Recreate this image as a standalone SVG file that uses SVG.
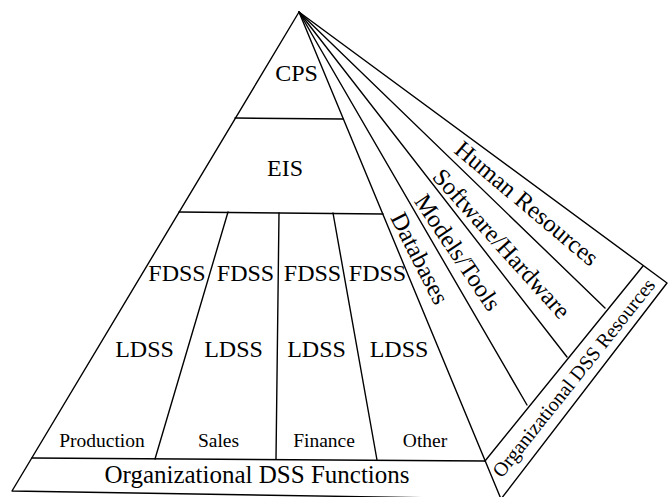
<svg xmlns="http://www.w3.org/2000/svg" width="672" height="497" viewBox="0 0 672 497">
  <style>
    .ln { stroke: #000; stroke-width: 1.4; fill: none; stroke-linecap: round; stroke-linejoin: round; }
    text { font-family: "Liberation Serif", "Times New Roman", serif; fill: #000; text-anchor: middle; }
    .lg { font-size: 24px; }
    .sm { font-size: 19.5px; }
    .fan { font-size: 24.5px; }
    .band { font-size: 25px; }
    .res { font-size: 20px; }
  </style>
  <rect width="672" height="497" fill="#fff"/>

  <!-- pyramid frame, fan of resource strips and dividers -->
  <g id="connectors" class="ln">
    <path d="M299,12 L12,491 L501,499 Z"/>
    <path d="M299,12 L527,405"/>
    <path d="M299,12 L567,357"/>
    <path d="M299,12 L605,308"/>
    <path d="M299,12 L667,283 L501,499"/>
    <path d="M485,461 L643,266"/>
    <path d="M32,458 L485,461"/>
    <path d="M179,212 L383,214"/>
    <path d="M235,118 L343,119"/>
    <path d="M228,212 L155,459"/>
    <path d="M279,213 L276,459"/>
    <path d="M333,213 L377,460"/>
  </g>

  <g id="cps"><text class="lg" x="296.5" y="81">CPS</text></g>
  <g id="eis"><text class="lg" x="285" y="176">EIS</text></g>

  <g id="production">
    <text class="lg" x="177" y="281">FDSS</text>
    <text class="lg" x="144.5" y="357">LDSS</text>
    <text class="sm" x="102" y="447">Production</text>
  </g>
  <g id="sales">
    <text class="lg" x="245.5" y="281">FDSS</text>
    <text class="lg" x="233.5" y="357">LDSS</text>
    <text class="sm" x="218.5" y="447">Sales</text>
  </g>
  <g id="finance">
    <text class="lg" x="312.5" y="281">FDSS</text>
    <text class="lg" x="316.5" y="357">LDSS</text>
    <text class="sm" x="324" y="447">Finance</text>
  </g>
  <g id="other">
    <text class="lg" x="377.5" y="281">FDSS</text>
    <text class="lg" x="399" y="357">LDSS</text>
    <text class="sm" x="425" y="447">Other</text>
  </g>

  <g id="dss-functions"><text class="band" x="257" y="483">Organizational DSS Functions</text></g>

  <g id="databases"><text class="fan" transform="translate(412.5,262) rotate(63)">Databases</text></g>
  <g id="models-tools"><text class="fan" transform="translate(451,257) rotate(56)">Models/Tools</text></g>
  <g id="software-hardware"><text class="fan" transform="translate(495.5,249) rotate(48)">Software/Hardware</text></g>
  <g id="human-resources"><text class="fan" transform="translate(521.5,209.5) rotate(40)">Human Resources</text></g>

  <g id="dss-resources"><text class="res" transform="translate(579,382) rotate(-51.4)">Organizational DSS Resources</text></g>
</svg>
